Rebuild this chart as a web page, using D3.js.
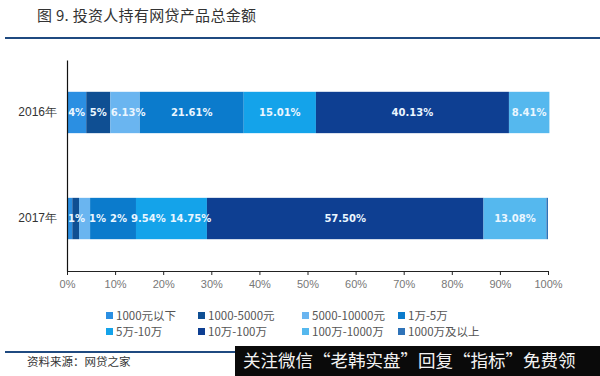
<!DOCTYPE html>
<html>
<head>
<meta charset="utf-8">
<script src="https://cdn.jsdelivr.net/npm/d3@7"></script>
<style>
  body { margin: 0; background: #fff; }
  svg { display: block; font-family: "Noto Sans CJK SC", "Noto Sans", sans-serif; }
</style>
</head>
<body>
<svg id="chart" width="600" height="376"></svg>
<script>
const years = ["2016年", "2017年"];
const categories = ["1000元以下", "1000-5000元", "5000-10000元", "1万-5万",
  "5万-10万", "10万-100万", "100万-1000万", "1000万及以上"];
const colors = ["#2b8fe2", "#0f4f93", "#6ab5f0", "#0b7bcc",
  "#14a3ea", "#0e3f92", "#55b8ee", "#2f73b8"];
const values2016 = [4, 5, 6.13, 21.61, 15.01, 40.13, 8.41, 0];
const values2017 = [1.1, 1.4, 2.3, 9.54, 14.75, 57.5, 13.08, 0.33];
const labels2016 = ["4%", "5%", "6.13%", "21.61%", "15.01%", "40.13%", "8.41%", ""];
const labels2017 = ["1%", "1%", "2%", "9.54%", "14.75%", "57.50%", "13.08%", ""];
const xTicks = [0, 10, 20, 30, 40, 50, 60, 70, 80, 90, 100];

const svg = d3.select("#chart");

// title + rule
svg.append("text")
  .attr("x", 37).attr("y", 21)
  .attr("font-size", 15).attr("fill", "#333")
  .attr("letter-spacing", 0.3)
  .text("图 9. 投资人持有网贷产品总金额");
svg.append("line")
  .attr("x1", 5).attr("x2", 600).attr("y1", 38).attr("y2", 38)
  .attr("stroke", "#1f4a80").attr("stroke-width", 2);

let xScale = d3.scaleLinear().domain([0, 100]).range([67, 548]);
let yScale = d3.scaleBand().domain(years).range([60, 271])
  .paddingInner(0.61).paddingOuter(0.3);

// stack the segments
let rows = [
  { year: years[0], values: values2016, labels: labels2016 },
  { year: years[1], values: values2017, labels: labels2017 }
];
let segs = [];
for (let r of rows) {
  let acc = 0;
  r.values.forEach((v, i) => {
    segs.push({ year: r.year, x0: acc, x1: acc + v, cat: i, label: r.labels[i] });
    acc += v;
  });
}

svg.append("g").selectAll("rect")
  .data(segs.filter(d => d.x1 > d.x0))
  .join("rect")
  .attr("x", d => xScale(d.x0))
  .attr("width", d => xScale(d.x1) - xScale(d.x0))
  .attr("y", d => yScale(d.year))
  .attr("height", yScale.bandwidth())
  .attr("fill", d => colors[d.cat]);

let barLabels = svg.append("g").selectAll("text")
  .data(segs.filter(d => d.label))
  .join("text")
  .attr("x", d => xScale((d.x0 + d.x1) / 2))
  .attr("y", d => yScale(d.year) + yScale.bandwidth() / 2)
  .attr("dy", "0.35em")
  .attr("text-anchor", "middle")
  .attr("font-family", "'DejaVu Sans', sans-serif")
  .attr("font-size", 10)
  .attr("font-weight", "bold")
  .attr("fill", "#eaf6ff")
  .text(d => d.label);

// push crowded labels to the right so they don't overlap
for (let year of years) {
  let right = xScale(0) - 3;
  barLabels.filter(d => d.year === year).each(function (d) {
    let w = this.getComputedTextLength();
    let cx = Math.max(xScale((d.x0 + d.x1) / 2), right + 4 + w / 2);
    d3.select(this).attr("x", cx);
    right = cx + w / 2;
  });
}

// axes
let xAxis = svg.append("g")
  .attr("transform", "translate(0, 271)")
  .call(d3.axisBottom(xScale).tickValues(xTicks).tickSize(4).tickPadding(5)
    .tickFormat(d => d + "%"));
xAxis.select(".domain").attr("stroke", "#222");
xAxis.selectAll(".tick line").attr("stroke", "#222");
xAxis.selectAll("text").attr("font-size", 11).attr("fill", "#777")
  .attr("font-family", "inherit");

let yAxis = svg.append("g")
  .attr("transform", "translate(67, 0)")
  .call(d3.axisLeft(yScale).tickSize(0).tickPadding(10).tickSizeOuter(0));
yAxis.select(".domain").attr("stroke", "#111").attr("stroke-width", 1.2);
yAxis.selectAll("text").attr("font-size", 12).attr("fill", "#333")
  .attr("font-family", "inherit");

// legend, 2 rows x 4 columns
const legendX = [106, 198, 302, 398];
let legend = svg.append("g").selectAll("g")
  .data(categories)
  .join("g")
  .attr("transform", (d, i) => `translate(${legendX[i % 4]}, ${i < 4 ? 316 : 332})`);
legend.append("rect")
  .attr("x", 0).attr("y", -4).attr("width", 7).attr("height", 7)
  .attr("fill", (d, i) => colors[i]);
legend.append("text")
  .attr("x", 10).attr("dy", "0.35em")
  .attr("font-size", 11.5).attr("fill", "#555")
  .text(d => d);

// source line
svg.append("line")
  .attr("x1", 5).attr("x2", 600).attr("y1", 352).attr("y2", 352)
  .attr("stroke", "#1f4a80").attr("stroke-width", 2);
svg.append("text")
  .attr("x", 27).attr("y", 366)
  .attr("font-size", 11.5).attr("fill", "#333")
  .text("资料来源：网贷之家");

// overlay banner at bottom right
svg.append("rect")
  .attr("x", 235).attr("y", 346).attr("width", 365).attr("height", 30)
  .attr("fill", "#0a0a0a");
svg.append("text")
  .attr("x", 243).attr("y", 367)
  .attr("font-size", 17.5).attr("fill", "#f2f2f2")
  .text("关注微信“老韩实盘”回复“指标”免费领");
</script>
</body>
</html>
